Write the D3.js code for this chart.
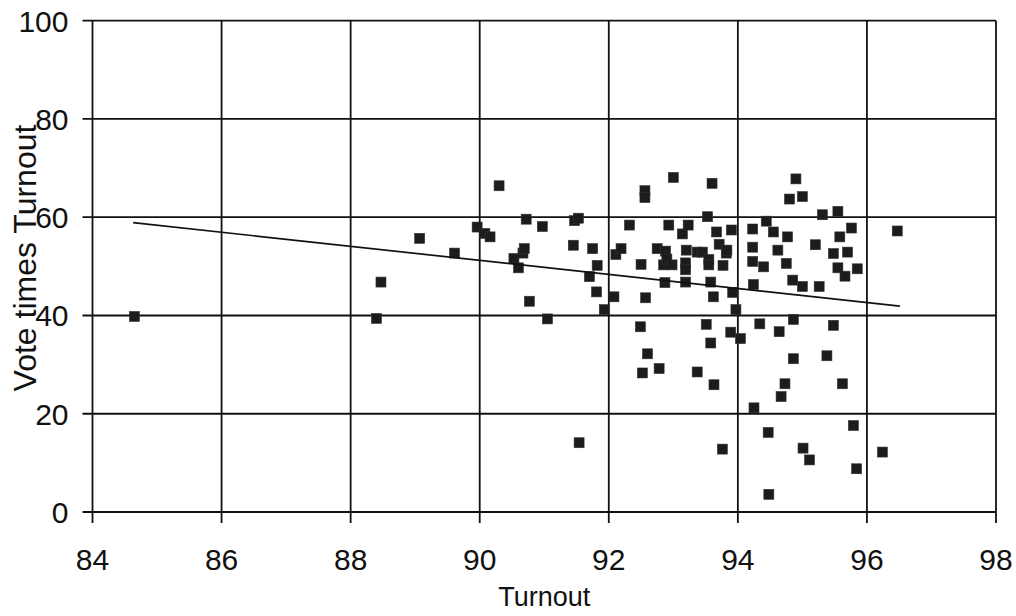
<!DOCTYPE html>
<html>
<head>
<meta charset="utf-8">
<script src="https://cdn.jsdelivr.net/npm/d3@7"></script>
<style>
  html, body { margin: 0; padding: 0; background: #fff; }
  svg { display: block; font-family: "Liberation Sans", Arial, sans-serif; }
  .grid-line { stroke: #111; stroke-width: 1.8; }
  .tick-label { font-size: 30px; fill: #111; }
  .axis-title { fill: #111; }
  .trend { stroke: #111; stroke-width: 1.7; fill: none; }
  .point { fill: #1c1c1c; stroke: #333; stroke-width: 0.6; }
</style>
</head>
<body>
<svg id="chart" width="1016" height="616"></svg>
<script>
const xTicks = [84, 86, 88, 90, 92, 94, 96, 98];
const yTicks = [0, 20, 40, 60, 80, 100];

const turnout = [
  84.65, 88.40, 88.47, 89.07, 89.61, 89.96, 90.08, 90.16, 90.30, 90.53,
  90.60, 90.67, 90.69, 90.72, 90.77, 90.97, 91.05, 91.45, 91.47, 91.53,
  91.54, 91.70, 91.75, 91.81, 91.82, 91.93, 92.08, 92.11, 92.19, 92.32,
  92.49, 92.50, 92.52, 92.56, 92.56, 92.57, 92.60, 92.75, 92.78, 92.85,
  92.87, 92.88, 92.90, 92.93, 92.98, 93.00, 93.14, 93.19, 93.19, 93.19,
  93.20, 93.23, 93.37, 93.37, 93.45, 93.51, 93.53, 93.55, 93.55, 93.58,
  93.58, 93.60, 93.62, 93.63, 93.67, 93.71, 93.76, 93.77, 93.82, 93.83,
  93.89, 93.90, 93.92, 93.97, 94.04, 94.23, 94.23, 94.23, 94.24, 94.25,
  94.34, 94.40, 94.44, 94.47, 94.48, 94.55, 94.62, 94.64, 94.67, 94.73,
  94.75, 94.77, 94.80, 94.85, 94.86, 94.86, 94.90, 95.00, 95.00, 95.01,
  95.11, 95.20, 95.26, 95.31, 95.38, 95.48, 95.48, 95.55, 95.55, 95.58,
  95.62, 95.66, 95.70, 95.76, 95.79, 95.84, 95.85, 96.24, 96.47
];

const voteTimesTurnout = [
  39.8, 39.4, 46.8, 55.7, 52.7, 58.0, 56.7, 56.0, 66.4, 51.6,
  49.7, 52.7, 53.6, 59.6, 42.9, 58.1, 39.3, 54.3, 59.3, 59.8,
  14.1, 47.9, 53.6, 44.8, 50.2, 41.2, 43.8, 52.4, 53.6, 58.4,
  37.7, 50.4, 28.3, 65.4, 64.0, 43.6, 32.2, 53.6, 29.2, 50.3,
  46.7, 53.1, 51.5, 58.4, 50.3, 68.1, 56.6, 50.7, 49.3, 46.8,
  53.3, 58.4, 52.9, 28.5, 52.9, 38.2, 60.1, 51.4, 50.3, 46.8,
  34.4, 66.9, 43.8, 25.9, 57.0, 54.5, 12.8, 50.2, 52.7, 53.3,
  36.6, 57.4, 44.7, 41.2, 35.3, 57.6, 53.9, 51.0, 46.3, 21.2,
  38.3, 49.9, 59.2, 16.2, 3.6, 57.0, 53.3, 36.7, 23.5, 26.1,
  50.6, 56.0, 63.7, 47.2, 39.2, 31.2, 67.8, 64.2, 45.9, 13.0,
  10.6, 54.4, 45.9, 60.5, 31.8, 52.6, 38.0, 61.2, 49.7, 56.0,
  26.1, 48.0, 52.9, 57.8, 17.6, 8.8, 49.5, 12.2, 57.2
];

// fitted trend line end points as drawn in the source
const trendTurnout = [84.63, 96.51];
const trendValue = [58.9, 41.9];

const svg = d3.select("#chart");
const plot = { left: 92.5, right: 996, top: 20.7, bottom: 512 };

const x = d3.scaleLinear().domain([84, 98]).range([plot.left, plot.right]);
const y = d3.scaleLinear().domain([0, 100]).range([plot.bottom, plot.top]);

const gridLayer = svg.append("g").attr("class", "grid");
const markLayer = svg.append("g").attr("class", "marks");
const labelLayer = svg.append("g").attr("class", "labels");

// vertical grid, running past the axis as the tick mark
gridLayer.selectAll("line.vertical")
  .data(xTicks)
  .join("line")
  .attr("class", "grid-line vertical")
  .attr("x1", (d) => x(d))
  .attr("x2", (d) => x(d))
  .attr("y1", plot.top)
  .attr("y2", plot.bottom + 11);

gridLayer.selectAll("line.horizontal")
  .data(yTicks)
  .join("line")
  .attr("class", "grid-line horizontal")
  .attr("x1", plot.left - 10)
  .attr("x2", plot.right)
  .attr("y1", (d) => y(d))
  .attr("y2", (d) => y(d));

const points = turnout.map((t, i) => ({ t, v: voteTimesTurnout[i] }));

markLayer.selectAll("rect.point")
  .data(points)
  .join("rect")
  .attr("class", "point")
  .attr("x", (d) => x(d.t) - 5)
  .attr("y", (d) => y(d.v) - 5)
  .attr("width", 10)
  .attr("height", 10);

markLayer.append("path")
  .attr("class", "trend")
  .attr("d", d3.line()
    .x((d) => x(d[0]))
    .y((d) => y(d[1]))(trendTurnout.map((t, i) => [t, trendValue[i]])));

labelLayer.selectAll("text.x-tick")
  .data(xTicks)
  .join("text")
  .attr("class", "tick-label x-tick")
  .attr("x", (d) => x(d))
  .attr("y", 570)
  .attr("text-anchor", "middle")
  .text((d) => d);

labelLayer.selectAll("text.y-tick")
  .data(yTicks)
  .join("text")
  .attr("class", "tick-label y-tick")
  .attr("x", plot.left - 24)
  .attr("y", (d) => y(d))
  .attr("dy", "0.36em")
  .attr("text-anchor", "end")
  .text((d) => d);

labelLayer.append("text")
  .attr("class", "axis-title")
  .attr("x", (plot.left + plot.right) / 2)
  .attr("y", 606)
  .attr("text-anchor", "middle")
  .attr("font-size", 27)
  .text("Turnout");

labelLayer.append("text")
  .attr("class", "axis-title")
  .attr("transform", "translate(36,258) rotate(-90)")
  .attr("text-anchor", "middle")
  .attr("font-size", 32)
  .text("Vote times Turnout");
</script>
</body>
</html>
